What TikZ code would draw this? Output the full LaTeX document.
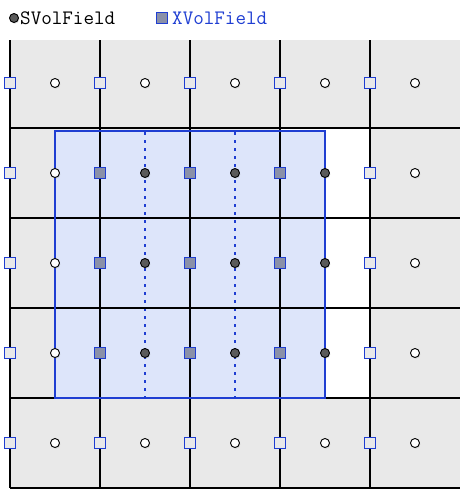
\documentclass[tikz,border=0pt]{standalone}
\usetikzlibrary{shadows}
\definecolor{cellgray}{HTML}{E9E9E9}
\definecolor{fieldblue}{HTML}{1F3ED2}
\definecolor{patchblue}{HTML}{DDE5FA}
\definecolor{xfill}{HTML}{8A90A8}
\definecolor{sfill}{HTML}{5A5A5A}
\newcommand{\cellw}{90}

\begin{document}
\begin{tikzpicture}[x=1pt,y=-1pt,
  svol/.style={circle,draw=black,fill=white,inner sep=0pt,minimum size=9pt,line width=0.9pt,
    drop shadow={shadow xshift=0.8pt,shadow yshift=-1.2pt,opacity=0.25}},
  svolin/.style={svol,fill=sfill},
  xvol/.style={rectangle,draw=fieldblue,fill=cellgray,inner sep=0pt,minimum size=11pt,line width=0.9pt},
  xvolin/.style={xvol,fill=xfill},
  keytext/.style={anchor=west,inner sep=0pt,font=\ttfamily\fontsize{20.5}{20.5}\selectfont}]
  \useasboundingbox (0,0) rectangle (468,499);

  % cells and patch
  \fill[cellgray] (10,40) rectangle (460,488);
  \fill[white] (280,128) rectangle (370,398);
  \fill[patchblue] (55,130) rectangle (325,398);
  \foreach \x in {145,235}
    \draw[fieldblue,line width=2pt,dash pattern=on 3pt off 5pt] (\x,132) -- (\x,398);

  \foreach \y in {128,218,308,398,488}
    \draw[line width=2pt] (10,\y) -- (460,\y);
  \foreach \x in {10,100,190,280,370}
    \draw[line width=2pt] (\x,40) -- (\x,488);
  \draw[fieldblue,line width=2.8pt] (55,131) rectangle (325,398);

  % field points
  \foreach \j/\y in {1/83,5/443}
    \foreach \i in {1,...,5} {
      \node[xvol] (x\i\j) at ({10+\cellw*(\i-1)},\y) {};
      \node[svol] (s\i\j) at ({55+\cellw*(\i-1)},\y) {};
    }
  \foreach \j/\y in {2/173,3/263,4/353} {
    \node[xvol] (x1\j) at (10,\y) {};
    \node[svol] (s1\j) at (55,\y) {};
    \foreach \i in {2,3,4} {
      \node[xvolin] (x\i\j) at ({10+\cellw*(\i-1)},\y) {};
      \node[svolin] (s\i\j) at ({55+\cellw*(\i-1)},\y) {};
    }
    \node[xvol] (x5\j) at (370,\y) {};
    \node[svol] (s5\j) at (415,\y) {};
  }

  % legend
  \node[svolin] (skey) at (14,18) {};
  \node[keytext] (slabel) at (20,18) {SVolField};
  \node[xvolin] (xkey) at (162,18) {};
  \node[keytext,text=fieldblue] (xlabel) at (172,18) {XVolField};
\end{tikzpicture}
\end{document}
